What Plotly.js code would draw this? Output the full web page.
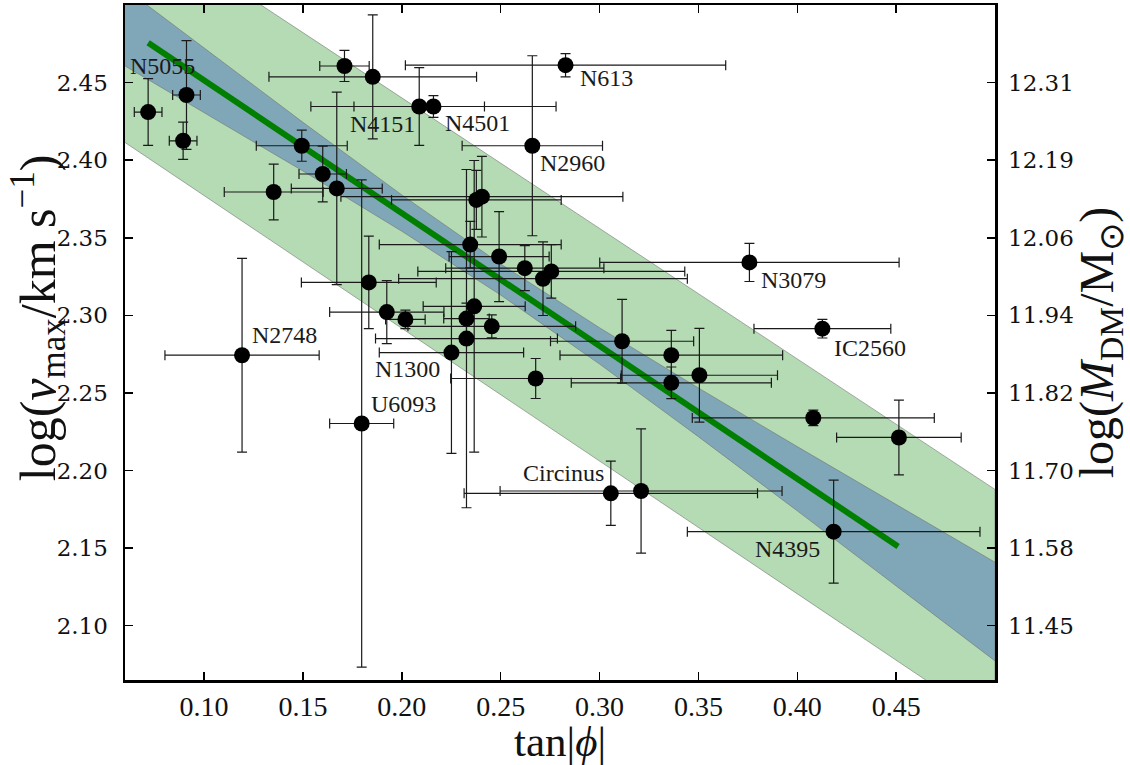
<!DOCTYPE html>
<html>
<head>
<meta charset="utf-8">
<script src="https://cdn.plot.ly/plotly-3.0.1.min.js"></script>
<style>html,body{margin:0;padding:0;background:#fff}</style>
</head>
<body>
<div id="chart" style="width:1130px;height:765px"></div>
<script>
// Galaxy sample: spiral pitch angle vs. maximum rotation velocity
const tanPhi = [0.0717, 0.0911, 0.0894, 0.1494, 0.1352, 0.1600, 0.1671, 0.1710, 0.1853, 0.2088,
                0.2160, 0.2828, 0.2660, 0.2377, 0.2405, 0.2346, 0.2492, 0.2622, 0.2714, 0.2756,
                0.2366, 0.2327, 0.2018, 0.2455, 0.2327, 0.2251, 0.3114, 0.3363, 0.2677, 0.3363,
                0.3505, 0.1833, 0.1924, 0.1192, 0.1797, 0.3758, 0.4127, 0.4081, 0.4514, 0.3057,
                0.3210, 0.4184];
const tanPhiErr = [0.0070, 0.0070, 0.0070, 0.0230, 0.0250, 0.0120, 0.0230, 0.0125, 0.0525, 0.0330,
                   0.0620, 0.0810, 0.0355, 0.0429, 0.0713, 0.0460, 0.0253, 0.0400, 0.0730, 0.0675,
                   0.0258, 0.0115, 0.0100, 0.0424, 0.0460, 0.0365, 0.0362, 0.0563, 0.0430, 0.0506,
                   0.0395, 0.0341, 0.0289, 0.0390, 0.0162, 0.0757, 0.0346, 0.0612, 0.0315, 0.0742,
                   0.0713, 0.0740];
const logVmax = [2.4310, 2.4420, 2.4125, 2.4093, 2.3795, 2.3911, 2.3818, 2.4607, 2.4537, 2.4346,
                 2.4346, 2.4612, 2.4093, 2.3744, 2.3765, 2.3456, 2.3379, 2.3304, 2.3236, 2.3283,
                 2.3058, 2.2979, 2.2974, 2.2929, 2.2850, 2.2760, 2.2833, 2.2743, 2.2593, 2.2565,
                 2.2614, 2.3212, 2.3021, 2.2743, 2.2303, 2.3341, 2.2914, 2.2339, 2.2213, 2.1853,
                 2.1868, 2.1606];
const logVmaxErr = [0.0215, 0.0350, 0.0120, 0.0100, 0.0180, 0.0180, 0.0620, 0.0100, 0.0400, 0.0250,
                    0.0070, 0.0075, 0.0580, 0.0190, 0.0260, 0.0150, 0.0290, 0.0145, 0.0237, 0.0172,
                    0.0940, 0.0100, 0.0060, 0.0074, 0.1090, 0.0650, 0.0270, 0.0160, 0.0129, 0.0102,
                    0.0302, 0.0298, 0.0203, 0.0624, 0.1570, 0.0123, 0.0060, 0.0050, 0.0241, 0.0207,
                    0.0400, 0.0332];
const galaxyNames = ['', 'N5055', '', '', '', '', '', '', '', 'N4151',
                     'N4501', 'N613', 'N2960', '', '', '', '', '', '', '',
                     '', '', '', '', '', 'N1300', '', '', '', '',
                     '', '', '', 'N2748', 'U6093', 'N3079', 'IC2560', '', '', 'Circinus',
                     '', 'N4395'];

// Best-fit relation and its scatter bands
const fitX = [0.0717, 0.4510];
const fitY = [2.4757, 2.1510];
const bandX = [0.06, 0.10, 0.15, 0.20, 0.25, 0.30, 0.35, 0.40, 0.45, 0.50];
const innerUpper = [2.5107, 2.4722, 2.4244, 2.3776, 2.3331, 2.2920, 2.2532, 2.2154, 2.1780, 2.1409];
const innerLower = [2.4607, 2.4308, 2.3930, 2.3542, 2.3131, 2.2686, 2.2218, 2.1740, 2.1258, 2.0773];
const outerUpper = [2.5583, 2.5242, 2.4822, 2.4401, 2.3980, 2.3560, 2.3139, 2.2719, 2.2298, 2.1878];
const outerLower = [2.4114, 2.3771, 2.3344, 2.2916, 2.2489, 2.2061, 2.1633, 2.1206, 2.0778, 2.0350];

// Right-hand axis: dark-matter mass corresponding to each velocity tick
const velTicks = [2.10, 2.15, 2.20, 2.25, 2.30, 2.35, 2.40, 2.45];
const massTickText = ['11.45', '11.58', '11.70', '11.82', '11.94', '12.06', '12.19', '12.31'];
const tanTicks = [0.10, 0.15, 0.20, 0.25, 0.30, 0.35, 0.40, 0.45];

const serif = "'Liberation Serif', 'Times New Roman', serif";
const wideSerif = "'DejaVu Serif', 'Liberation Serif', serif";

function band(upper, lower, fill) {
  return {
    x: bandX.concat(bandX.slice().reverse()),
    y: upper.concat(lower.slice().reverse()),
    type: 'scatter', mode: 'lines', fill: 'toself',
    fillcolor: fill,
    line: {color: 'rgba(110,110,110,0.55)', width: 1},
    hoverinfo: 'skip', showlegend: false
  };
}

const traces = [
  band(outerUpper, outerLower, '#b4dbb3'),
  band(innerUpper, innerLower, '#80a7b8'),
  {
    x: fitX, y: fitY, type: 'scatter', mode: 'lines',
    line: {color: '#007f00', width: 6},
    showlegend: false, hoverinfo: 'skip'
  },
  {
    x: tanPhi, y: logVmax, type: 'scatter', mode: 'markers',
    marker: {color: '#000', size: 16},
    error_x: {type: 'data', array: tanPhiErr, visible: true, color: '#1a1a1a', thickness: 1.2, width: 5},
    error_y: {type: 'data', array: logVmaxErr, visible: true, color: '#1a1a1a', thickness: 1.2, width: 5},
    text: galaxyNames, showlegend: false
  },
  {
    // carries the mass axis on the right
    x: fitX, y: fitY, type: 'scatter', mode: 'lines', yaxis: 'y2',
    line: {color: 'rgba(0,0,0,0)', width: 0},
    showlegend: false, hoverinfo: 'skip'
  }
];

// Placement of each galaxy name relative to its point (pixels)
const labelPlacement = {
  'N5055':   {anchor: 'right', dx: 11,  dy: 29},
  'N4151':   {anchor: 'right', dx: -2,  dy: -18},
  'N4501':   {anchor: 'left',  dx: 10,  dy: -17},
  'N613':    {anchor: 'left',  dx: 12,  dy: -13},
  'N2960':   {anchor: 'left',  dx: 6,   dy: -17},
  'N3079':   {anchor: 'left',  dx: 10,  dy: -18},
  'IC2560':  {anchor: 'left',  dx: 10,  dy: -19},
  'N2748':   {anchor: 'left',  dx: 8,   dy: 20},
  'N1300':   {anchor: 'right', dx: -9,  dy: -16},
  'U6093':   {anchor: 'left',  dx: 7,   dy: 20},
  'Circinus':{anchor: 'right', dx: -5,  dy: 20},
  'N4395':   {anchor: 'right', dx: -12, dy: -17}
};

const annotations = [];
galaxyNames.forEach((name, i) => {
  if (!name) return;
  const p = labelPlacement[name];
  annotations.push({
    x: tanPhi[i], y: logVmax[i], xref: 'x', yref: 'y',
    text: name, showarrow: false,
    xanchor: p.anchor, yanchor: 'middle',
    xshift: p.dx, yshift: p.dy,
    font: {family: serif, size: 24, color: '#1a1a1a'}
  });
});

// Velocity axis title, set slightly below the axis midpoint
annotations.push({
  xref: 'paper', yref: 'paper', x: -0.1, y: 0.536,
  xanchor: 'center', yanchor: 'middle', textangle: -90, showarrow: false,
  text: 'log(<i>v</i><sub>max</sub>/km s<sup>−1</sup>)',
  font: {family: serif, size: 50, color: '#111'}
});

const layout = {
  width: 1130, height: 765,
  margin: {l: 125, r: 135, t: 5, b: 85},
  paper_bgcolor: '#fff', plot_bgcolor: '#fff',
  font: {family: serif, color: '#111'},
  showlegend: false,
  xaxis: {
    range: [0.06, 0.50], tickvals: tanTicks, tickformat: '.2f',
    ticks: 'inside', ticklen: 8, tickwidth: 1.5, tickcolor: '#000',
    showline: true, linewidth: 2.5, linecolor: '#000', mirror: 'ticks',
    showgrid: false, zeroline: false,
    tickfont: {family: serif, size: 28, color: '#111'},
    title: {text: 'tan|<i>ϕ</i>|', font: {family: serif, size: 43, color: '#111'}, standoff: 8}
  },
  yaxis: {
    range: [2.065, 2.50], tickvals: velTicks, tickformat: '.2f',
    ticks: 'inside', ticklen: 8, tickwidth: 1.5, tickcolor: '#000',
    showline: true, linewidth: 2.5, linecolor: '#000', mirror: 'ticks',
    showgrid: false, zeroline: false, ticklabelstandoff: 10,
    tickfont: {family: wideSerif, size: 23, color: '#111'}
  },
  yaxis2: {
    overlaying: 'y', side: 'right', range: [2.065, 2.50],
    tickvals: velTicks, ticktext: massTickText,
    ticks: '', showline: false, showgrid: false, zeroline: false, ticklabelstandoff: 12,
    tickfont: {family: wideSerif, size: 23, color: '#111'},
    title: {text: 'log(<i>M</i><sub>DM</sub>/M<sub>⊙</sub>)', font: {family: serif, size: 48, color: '#111'}, standoff: 6}
  },
  annotations: annotations
};

Plotly.newPlot('chart', traces, layout, {staticPlot: true, displayModeBar: false});
</script>
</body>
</html>
